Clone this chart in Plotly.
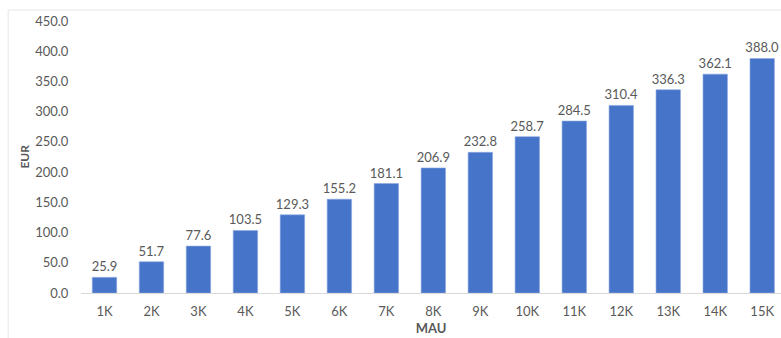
import plotly.graph_objects as go

categories = ["1K", "2K", "3K", "4K", "5K", "6K", "7K", "8K", "9K", "10K", "11K", "12K", "13K", "14K", "15K"]
eur_values = [25.9, 51.7, 77.6, 103.5, 129.3, 155.2, 181.1, 206.9, 232.8, 258.7, 284.5, 310.4, 336.3, 362.1, 388.0]
y_ticks = [0, 50, 100, 150, 200, 250, 300, 350, 400, 450]

font_family = "Lato, Open Sans, sans-serif"
grey = "#595959"

fig = go.Figure()
fig.add_trace(go.Bar(
    x=categories,
    y=eur_values,
    width=0.52,
    marker=dict(color="#4674C9", line=dict(color="#8FA9E0", width=0.6)),
    texttemplate="%{y:.1f}",
    textposition="outside",
    constraintext="none",
    textfont=dict(family=font_family, size=13, color=grey),
    cliponaxis=False,
    hoverinfo="skip",
))

fig.update_layout(
    width=781, height=338,
    margin=dict(l=81, r=0, t=21, b=45),
    paper_bgcolor="white", plot_bgcolor="white",
    showlegend=False,
    font=dict(family=font_family, color=grey),
    xaxis=dict(
        type="category",
        range=[-0.5, 14.4],
        showgrid=False,
        showline=True, linecolor="#D9D9D9", linewidth=1,
        ticks="outside", ticklen=6, tickcolor="rgba(0,0,0,0)",
        tickfont=dict(size=13, color=grey),
        title=dict(text="<b>MAU</b>", font=dict(size=13, color=grey), standoff=6),
    ),
    yaxis=dict(
        range=[0, 450],
        tickvals=y_ticks,
        tickformat=".1f",
        showgrid=False,
        zeroline=False,
        showline=False,
        ticks="outside", ticklen=9, tickcolor="rgba(0,0,0,0)",
        tickfont=dict(size=13, color=grey),
    ),
    annotations=[dict(
        text="<b>EUR</b>", textangle=-90,
        xref="paper", yref="paper", x=-0.082, y=0.5,
        xanchor="center", yanchor="middle", showarrow=False,
        font=dict(family=font_family, size=12, color=grey),
    )],
    shapes=[dict(
        type="rect", xref="paper", yref="paper",
        x0=-0.104, x1=1.02, y0=-0.3, y1=1.04,
        line=dict(color="#E6E6E6", width=1), layer="below",
    )],
)

fig.write_html(
    "out.html",
    config={"displayModeBar": False, "staticPlot": True},
    post_script="document.body.style.margin='0';document.body.style.overflow='hidden';",
)
